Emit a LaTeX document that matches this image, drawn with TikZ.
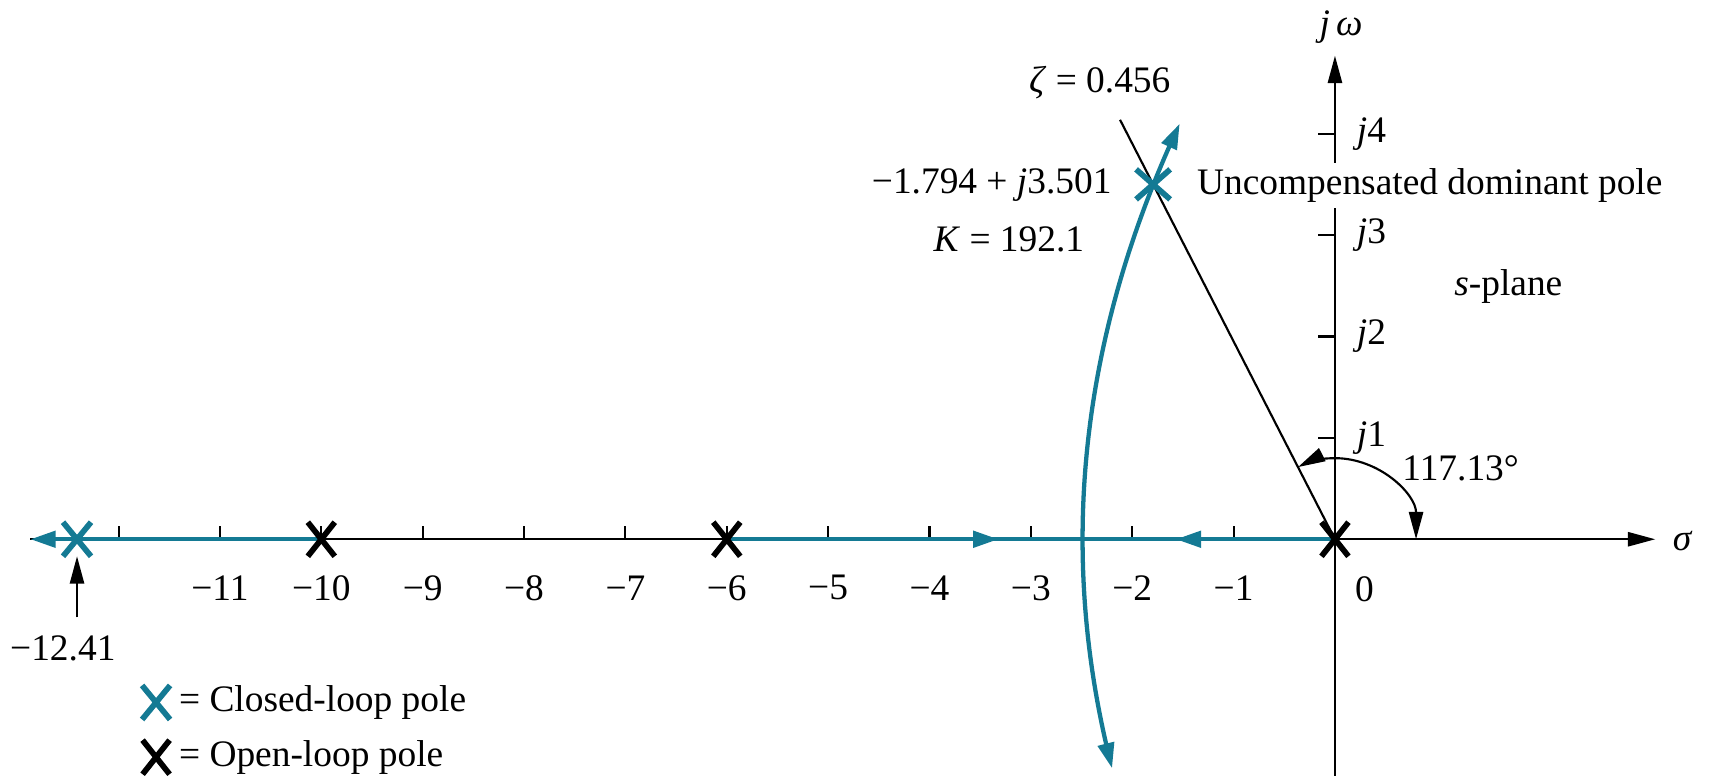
\documentclass[tikz,border=0pt]{standalone}
\usepackage{fontspec}
\setmainfont{Liberation Serif}
\usetikzlibrary{arrows.meta,shapes.misc}
\definecolor{locuscol}{RGB}{20,122,148}
\begin{document}
\begin{tikzpicture}[x=1cm,y=1cm,
  every node/.style={font=\fontsize{10.5}{12}\selectfont},
  axisline/.style={line width=0.6pt, draw=black},
  locus/.style={line width=1.2pt, draw=locuscol},
  ltip/.style={-{Triangle[length=2.5mm,width=1.6mm]}},
  btip/.style={-{Triangle[length=2.7mm,width=1.4mm]}},
  olp/.style={cross out, draw=black, line width=1.6pt, minimum width=0.21cm, minimum height=0.28cm, inner sep=0pt},
  clp/.style={olp, draw=locuscol, minimum width=0.22cm, minimum height=0.28cm}]
\useasboundingbox (-13.17,-2.33) rectangle (3.69,5.32);

\coordinate (o) at (0,0);
\coordinate (xl) at (-12.87,0);
\coordinate (xr) at (3.16,0);
\coordinate (yb) at (0,-2.4);
\coordinate (yt) at (0,4.77);

% axes
\draw[axisline, btip] (xl) -- (xr);
\draw[axisline, btip] (yb) -- (yt);
\foreach \k in {1,...,12} \draw[axisline] (-\k,0) -- (-\k,0.13);
\foreach \k in {1,...,4} \draw[axisline] (0,\k) -- (-0.17,\k);
\foreach \k in {1,...,11} \node (lx\k) at (-\k,-0.48) {−\k};
\node (l0) at (0.29,-0.49) {0};
\foreach \k in {1,...,4} \node (ly\k) at (0.36,\k) {\textit{j}\k};
\node (sig) at (3.43,-0.02) {\textit{σ}};
\node (jw) at (0.06,5.05) {\textit{j\,ω}};

% zeta line and angle
\draw[axisline] (o) -- (117.13:4.65) coordinate (zt);
\draw[axisline, {Triangle[length=2.7mm,width=1.4mm]}-{Triangle[length=2.7mm,width=1.4mm]}]
  (0.8,0) arc[start angle=0, end angle=117.13, radius=0.8];
\node (ang) at (1.24,0.70) {117.13°};
\node (zeta) at (-2.32,4.5) {\textit{ζ} = 0.456};

% root locus on real axis
\coordinate (m1) at (-3.32,0);
\coordinate (m2) at (-1.57,0);
\draw[locus] (-10,0) -- (-12.7,0);
\draw[locus, ltip] (-12.0,0) -- (xl);
\draw[locus, ltip] (-6,0) -- (m1);
\draw[locus] (-3.5,0) -- (-1.5,0);
\draw[locus, ltip] (o) -- (m2);

% complex branches
\draw[locus, {Triangle[length=2.5mm,width=1.6mm]}-{Triangle[length=2.5mm,width=1.6mm]}]
  plot[domain=-2.26:4.1, smooth, samples=40] ({-2.49+0.057*\x*\x}, \x);

% poles
\node[olp] (p10) at (-10,0) {};
\node[olp] (p6) at (-6,0) {};
\node[olp] (p0) at (0,0) {};
\node[clp] (c1) at (-12.41,0) {};
\node[clp, minimum width=0.28cm, minimum height=0.24cm] (c2) at (-1.794,3.501) {};

% pole label arrow
\coordinate (a1) at (-12.41,-0.77);
\draw[axisline, btip] (a1) -- (c1);
\node (l1241) at (-12.55,-1.08) {−12.41};

% labels
\node[anchor=east] (cpl) at (-2.08,3.49) {−1.794 + \textit{j}3.501};
\node[anchor=east] (kl) at (-2.35,2.96) {\textit{K} = 192.1};
\node[anchor=west, fill=white, inner sep=1.5pt] (unc) at (-1.42,3.49) {Uncompensated dominant pole};
\node (spl) at (1.71,2.49) {\textit{s}-plane};

% legend
\node[clp] (lgc) at (-11.63,-1.61) {};
\node[anchor=west, inner sep=0pt] (lgct) at (-11.41,-1.61) {= Closed-loop pole};
\node[olp] (lgo) at (-11.63,-2.15) {};
\node[anchor=west, inner sep=0pt] (lgot) at (-11.41,-2.15) {= Open-loop pole};
\end{tikzpicture}
\end{document}
